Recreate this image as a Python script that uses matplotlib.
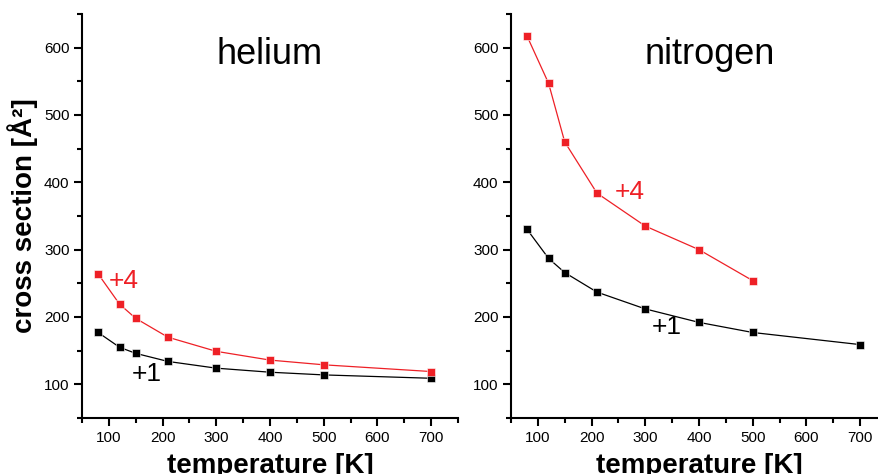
import numpy as np
import matplotlib
matplotlib.use('Agg')
import matplotlib.pyplot as plt
from matplotlib.ticker import MultipleLocator

plt.rcParams['font.family'] = ['Liberation Sans', 'DejaVu Sans']

# data
he_t1 = [80, 120, 150, 210, 300, 400, 500, 700]
he_p1 = [177, 155, 146, 134, 124, 118, 114, 109]
he_t4 = [80, 120, 150, 210, 300, 400, 500, 700]
he_p4 = [264, 219, 198, 170, 149, 136, 129, 119]

n2_t1 = [80, 120, 150, 210, 300, 400, 500, 700]
n2_p1 = [330, 287, 266, 237, 212, 192, 177, 159]
n2_t4 = [80, 120, 150, 210, 300, 400, 500]
n2_p4 = [617, 547, 460, 384, 335, 300, 254]

red = '#ee2026'

fig = plt.figure(figsize=(8.79, 4.74), dpi=100)
ax1 = fig.add_axes([82/879, 56/474, 376/879, 404/474])
ax2 = fig.add_axes([511/879, 56/474, 376/879, 404/474])

def style(ax):
    ax.set_xlim(50, 750)
    ax.set_ylim(50, 650)
    for s in ['top', 'right']:
        ax.spines[s].set_visible(False)
    for s in ['left', 'bottom']:
        ax.spines[s].set_linewidth(1.5)
    ax.xaxis.set_major_locator(MultipleLocator(100))
    ax.xaxis.set_minor_locator(MultipleLocator(50))
    ax.yaxis.set_major_locator(MultipleLocator(100))
    ax.yaxis.set_minor_locator(MultipleLocator(50))
    ax.set_xticks([100, 200, 300, 400, 500, 600, 700])
    ax.set_yticks([100, 200, 300, 400, 500, 600])
    ax.tick_params(which='major', direction='out', length=6, width=1.5, labelsize=11, pad=3)
    ax.tick_params(which='minor', direction='out', length=3.5, width=1.5)
    ax.set_xlabel('temperature [K]', fontsize=20, fontweight='bold', labelpad=6)

for ax, t1, p1, t4, p4 in [(ax1, he_t1, he_p1, he_t4, he_p4),
                           (ax2, n2_t1, n2_p1, n2_t4, n2_p4)]:
    style(ax)
    ax.plot(t1, p1, color='black', lw=0.9, marker='s', ms=6, mec='white', mew=0.4)
    ax.plot(t4, p4, color=red, lw=0.9, marker='s', ms=6, mec='white', mew=0.4)

ax1.set_ylabel('cross section [Å²]', fontsize=20, fontweight='bold', labelpad=4)

ax1.text(0.5, 0.9, 'helium', transform=ax1.transAxes, fontsize=26, ha='center', va='center')
ax2.text(0.53, 0.9, 'nitrogen', transform=ax2.transAxes, fontsize=26, ha='center', va='center')

ax1.text(100, 253, '+4', color=red, fontsize=19, va='center')
ax1.text(143, 116, '+1', color='black', fontsize=19, va='center')
ax2.text(244, 386, '+4', color=red, fontsize=19, va='center')
ax2.text(312, 185, '+1', color='black', fontsize=19, va='center')

fig.savefig('out.png', dpi=100)
